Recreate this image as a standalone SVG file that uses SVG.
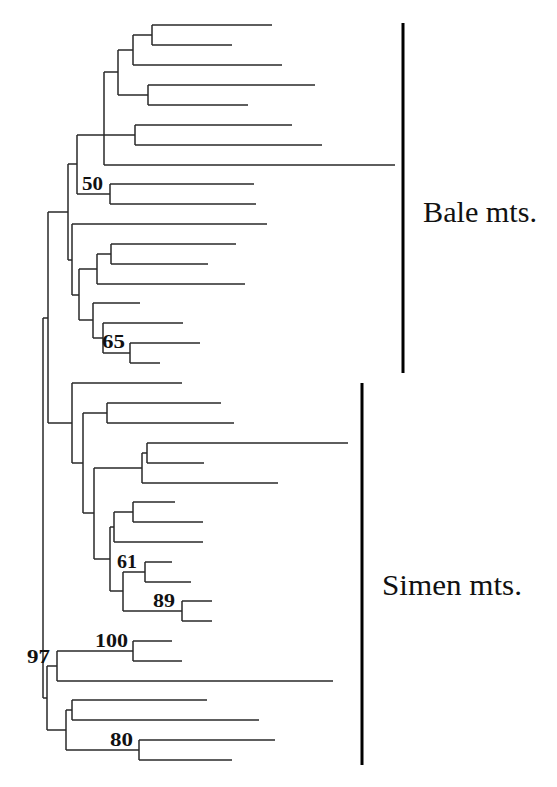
<svg xmlns="http://www.w3.org/2000/svg" width="557" height="787" viewBox="0 0 557 787">
<style>
.br{fill:none;stroke:#2a2a2a;stroke-width:1.5}
.bar{stroke:#000;stroke-width:3}
.bs{font-family:"Liberation Serif","Times New Roman",serif;font-weight:bold;font-size:19px;fill:#111}
.lab{font-family:"Liberation Serif","Times New Roman",serif;font-size:30px;fill:#111}
</style>
<rect width="557" height="787" fill="#fff"/>
<g id="connectors">
<g id="bale-clade">
<path class="br" d="M152,25V45M152,25H272M152,45H232M133,35V65M133,35H152M133,65H282M148,85V105M148,85H315M148,105H248M118,50V95M118,50H133M118,95H148M135,125V145M135,125H292M135,145H322M104,72V165M104,72H118M104,165H395M77,135H135M110,184V204M110,184H254M110,204H256M77,135V194M77,194H110M68,164V260M68,164H77M68,260H72"/>
<path class="br" d="M72,224V295M72,224H267M111,244V264M111,244H236M111,264H208M97,254V284M97,254H111M97,284H245M130,343V363M130,343H200M130,363H160M103,323V353M103,323H183M103,353H130M93,303V338M93,303H140M93,338H103M79,269V320M79,269H97M79,320H93M72,295H79"/>
</g>
<g id="simen-clade">
<path class="br" d="M72,383V463M72,383H182M72,463H83M83,413V513M83,413H107M107,403V423M107,403H221M107,423H234M83,513H94M94,468V559M94,468H142M142,453V483M142,453H147M142,483H278M147,443V463M147,443H348M147,463H204M94,559H110M110,527V591M110,527H114M114,512V542M114,512H133M114,542H203M133,502V522M133,502H175M133,522H203M110,591H123M123,572V611M123,572H145M123,611H182M145,562V582M145,562H172M145,582H191M182,601V621M182,601H212M182,621H212"/>
</g>
<g id="basal">
<path class="br" d="M48,212V423M48,212H68M48,423H72M43,318V698M43,318H48M43,698H47M47,666V730M47,666H57M47,730H66M57,651V681M57,651H133M57,681H333M133,641V661M133,641H172M133,661H182M66,710V750M66,710H72M66,750H139M72,700V720M72,700H207M72,720H259M139,740V760M139,740H275M139,760H232"/>
</g>
</g>
<g id="bootstrap">
<text class="bs" x="82" y="190" textLength="21" lengthAdjust="spacingAndGlyphs">50</text>
<text class="bs" x="102" y="348" textLength="23" lengthAdjust="spacingAndGlyphs">65</text>
<text class="bs" x="117" y="568" textLength="20" lengthAdjust="spacingAndGlyphs">61</text>
<text class="bs" x="153" y="607" textLength="22" lengthAdjust="spacingAndGlyphs">89</text>
<text class="bs" x="95" y="647" textLength="33" lengthAdjust="spacingAndGlyphs">100</text>
<text class="bs" x="27" y="663" textLength="23" lengthAdjust="spacingAndGlyphs">97</text>
<text class="bs" x="110" y="746" textLength="23" lengthAdjust="spacingAndGlyphs">80</text>
</g>
<g id="bale-group">
<line class="bar" x1="403" y1="23" x2="403" y2="373"/>
<text class="lab" x="423" y="222" textLength="114" lengthAdjust="spacingAndGlyphs">Bale mts.</text>
</g>
<g id="simen-group">
<line class="bar" x1="362" y1="383" x2="362" y2="765"/>
<text class="lab" x="382" y="595" textLength="140" lengthAdjust="spacingAndGlyphs">Simen mts.</text>
</g>
</svg>
